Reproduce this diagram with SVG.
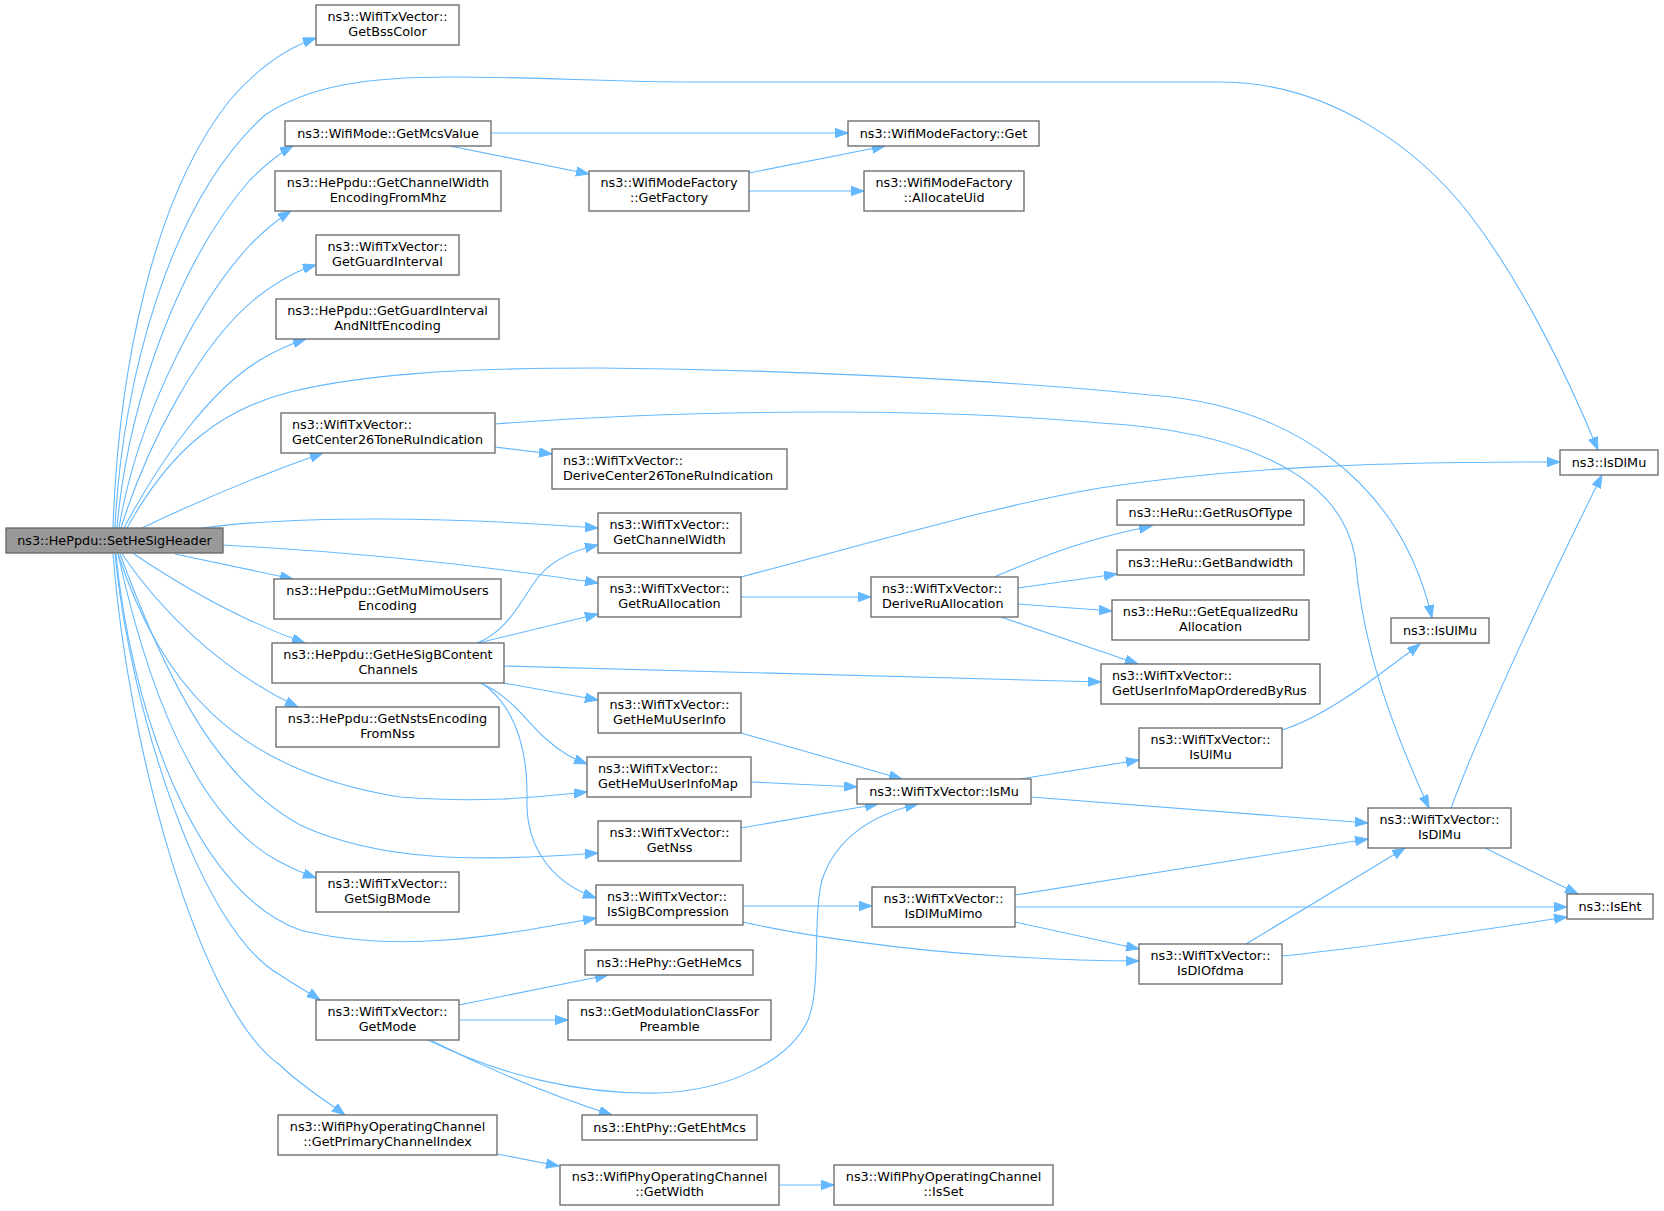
<svg xmlns="http://www.w3.org/2000/svg" width="1664" height="1211" viewBox="0 0 1664 1211">
<defs>
<style>
.n rect{fill:#ffffff;stroke:#666666;stroke-width:1.3}
.root rect{fill:#999999;stroke:#666666;stroke-width:1.3}
text{font-family:"DejaVu Sans","Liberation Sans",sans-serif;font-size:12.8px;fill:#000000}
.c{text-anchor:middle}
.l{text-anchor:start}
#edges path{fill:none;stroke:#63b8ff;stroke-width:1.1;marker-end:url(#ah)}
</style>
<marker id="ah" markerUnits="userSpaceOnUse" markerWidth="14" markerHeight="10" refX="13" refY="4.7" orient="auto">
<path d="M0,0 L13,4.7 L0,9.4 z" fill="#63b8ff" stroke="#63b8ff" stroke-width="1"/>
</marker>
</defs>
<rect x="0" y="0" width="1664" height="1211" fill="#ffffff"/>
<g id="edges">
<path d="M113,528 C118,380 150,200 230,100 C260,65 290,47 316,38"/>
<path d="M115,528 C122,380 170,200 265,115 C310,85 370,77 450,77 C550,77 600,82 700,82 L1220,82 C1330,82 1420,150 1470,215 C1520,280 1565,370 1598,450"/>
<path d="M117,528 C128,400 180,260 250,180 C265,165 278,154 293,146"/>
<path d="M119,528 C135,430 190,310 250,245 C265,230 278,219 291,211"/>
<path d="M121,528 C145,450 200,340 260,295 C280,280 298,270 316,265"/>
<path d="M124,528 C160,460 210,390 260,360 C275,351 290,344 306,339"/>
<path d="M127,528 C170,450 220,410 290,392 C360,375 450,368 600,368 C800,370 1000,380 1150,395 C1290,405 1400,480 1432,618"/>
<path d="M142,528 C190,505 260,475 323,453"/>
<path d="M203,528 C300,515 450,517 598,528"/>
<path d="M223,545 C350,552 480,565 598,583"/>
<path d="M175,554 L293,579"/>
<path d="M134,554 C180,585 240,620 305,643"/>
<path d="M122,554 C160,610 220,670 298,707"/>
<path d="M118,554 C160,680 230,770 400,797 C480,803 530,798 587,792"/>
<path d="M120,554 C170,690 220,780 300,825 C380,862 480,862 598,853"/>
<path d="M118,554 C150,700 200,820 280,862 C295,870 305,874 316,878"/>
<path d="M116,554 C130,700 190,890 300,930 C400,955 500,935 596,918"/>
<path d="M115,554 C130,710 200,930 280,975 C295,985 308,992 320,1000"/>
<path d="M113,554 C128,750 200,1010 280,1065 C300,1085 325,1100 345,1115"/>
<path d="M491,133 L848,133"/>
<path d="M450,146 L589,174"/>
<path d="M749,173 L885,146"/>
<path d="M749,191 L864,191"/>
<path d="M495,447 L552,454"/>
<path d="M495,424 C650,412 900,405 1100,423 C1230,430 1340,470 1355,557 C1360,610 1370,680 1429,808"/>
<path d="M477,643 C510,630 520,600 540,575 C555,558 575,550 598,545"/>
<path d="M478,643 L598,614"/>
<path d="M504,666 L1101,682"/>
<path d="M504,683 L598,700"/>
<path d="M480,683 C510,695 525,720 545,738 C560,752 572,758 587,764"/>
<path d="M482,683 C520,710 528,760 527,800 C526,840 545,880 596,898"/>
<path d="M741,577 C900,535 1000,505 1100,488 C1250,465 1400,462 1560,462"/>
<path d="M741,597 L871,597"/>
<path d="M994,577 C1040,558 1080,540 1152,526"/>
<path d="M1018,588 L1117,574"/>
<path d="M1018,604 L1112,611"/>
<path d="M1001,617 L1138,664"/>
<path d="M741,733 L902,779"/>
<path d="M751,782 L857,787"/>
<path d="M741,828 L878,804"/>
<path d="M1020,779 L1139,760"/>
<path d="M1031,797 L1368,823"/>
<path d="M1015,895 L1368,839"/>
<path d="M1015,907 L1567,907"/>
<path d="M1015,922 L1139,949"/>
<path d="M743,906 L872,906"/>
<path d="M743,922 C800,935 900,950 1000,956 C1060,960 1100,961 1139,961"/>
<path d="M1246,944 L1405,848"/>
<path d="M1282,956 C1380,946 1480,930 1567,917"/>
<path d="M1485,848 L1578,894"/>
<path d="M1451,808 C1480,730 1540,600 1602,475"/>
<path d="M1282,730 C1320,718 1360,690 1420,644"/>
<path d="M459,1005 L608,975"/>
<path d="M459,1020 L568,1020"/>
<path d="M428,1040 C500,1075 580,1095 660,1093 C730,1090 790,1060 808,1020 C822,985 812,920 822,880 C835,840 870,815 918,804"/>
<path d="M432,1041 C490,1070 550,1095 612,1115"/>
<path d="M497,1154 L559,1166"/>
<path d="M779,1185 L834,1185"/>
</g>
<g id="n-SetHeSigHeader" class="root"><rect x="6" y="528" width="217" height="25"/><text class="c" x="114.5" y="544.8">ns3::HePpdu::SetHeSigHeader</text></g>
<g id="n-GetBssColor" class="n"><rect x="316" y="5" width="143" height="40"/><text class="c" x="387.5" y="20.8">ns3::WifiTxVector::</text><text class="c" x="387.5" y="35.8">GetBssColor</text></g>
<g id="n-GetMcsValue" class="n"><rect x="285" y="121" width="206" height="25"/><text class="c" x="388" y="137.8">ns3::WifiMode::GetMcsValue</text></g>
<g id="n-GetChannelWidthEncodingFromMhz" class="n"><rect x="275" y="171" width="226" height="40"/><text class="c" x="388" y="186.8">ns3::HePpdu::GetChannelWidth</text><text class="c" x="388" y="201.8">EncodingFromMhz</text></g>
<g id="n-GetGuardInterval" class="n"><rect x="316" y="235" width="143" height="40"/><text class="c" x="387.5" y="250.8">ns3::WifiTxVector::</text><text class="c" x="387.5" y="265.8">GetGuardInterval</text></g>
<g id="n-GetGuardIntervalAndNltfEncoding" class="n"><rect x="276" y="299" width="223" height="40"/><text class="c" x="387.5" y="314.8">ns3::HePpdu::GetGuardInterval</text><text class="c" x="387.5" y="329.8">AndNltfEncoding</text></g>
<g id="n-GetCenter26ToneRuIndication" class="n"><rect x="281" y="413" width="214" height="40"/><text class="l" x="292" y="428.8">ns3::WifiTxVector::</text><text class="l" x="292" y="443.8">GetCenter26ToneRuIndication</text></g>
<g id="n-GetMuMimoUsersEncoding" class="n"><rect x="274" y="579" width="227" height="40"/><text class="c" x="387.5" y="594.8">ns3::HePpdu::GetMuMimoUsers</text><text class="c" x="387.5" y="609.8">Encoding</text></g>
<g id="n-GetHeSigBContentChannels" class="n"><rect x="272" y="643" width="232" height="40"/><text class="c" x="388" y="658.8">ns3::HePpdu::GetHeSigBContent</text><text class="c" x="388" y="673.8">Channels</text></g>
<g id="n-GetNstsEncodingFromNss" class="n"><rect x="276" y="707" width="223" height="40"/><text class="c" x="387.5" y="722.8">ns3::HePpdu::GetNstsEncoding</text><text class="c" x="387.5" y="737.8">FromNss</text></g>
<g id="n-GetSigBMode" class="n"><rect x="316" y="872" width="143" height="40"/><text class="c" x="387.5" y="887.8">ns3::WifiTxVector::</text><text class="c" x="387.5" y="902.8">GetSigBMode</text></g>
<g id="n-GetMode" class="n"><rect x="316" y="1000" width="143" height="40"/><text class="c" x="387.5" y="1015.8">ns3::WifiTxVector::</text><text class="c" x="387.5" y="1030.8">GetMode</text></g>
<g id="n-GetPrimaryChannelIndex" class="n"><rect x="278" y="1115" width="219" height="40"/><text class="c" x="387.5" y="1130.8">ns3::WifiPhyOperatingChannel</text><text class="c" x="387.5" y="1145.8">::GetPrimaryChannelIndex</text></g>
<g id="n-WifiModeFactoryGet" class="n"><rect x="848" y="121" width="191" height="25"/><text class="c" x="943.5" y="137.8">ns3::WifiModeFactory::Get</text></g>
<g id="n-GetFactory" class="n"><rect x="589" y="171" width="160" height="40"/><text class="c" x="669" y="186.8">ns3::WifiModeFactory</text><text class="c" x="669" y="201.8">::GetFactory</text></g>
<g id="n-AllocateUid" class="n"><rect x="864" y="171" width="160" height="40"/><text class="c" x="944" y="186.8">ns3::WifiModeFactory</text><text class="c" x="944" y="201.8">::AllocateUid</text></g>
<g id="n-DeriveCenter26ToneRuIndication" class="n"><rect x="552" y="449" width="235" height="40"/><text class="l" x="563" y="464.8">ns3::WifiTxVector::</text><text class="l" x="563" y="479.8">DeriveCenter26ToneRuIndication</text></g>
<g id="n-GetChannelWidth" class="n"><rect x="598" y="513" width="143" height="40"/><text class="c" x="669.5" y="528.8">ns3::WifiTxVector::</text><text class="c" x="669.5" y="543.8">GetChannelWidth</text></g>
<g id="n-GetRuAllocation" class="n"><rect x="598" y="577" width="143" height="40"/><text class="c" x="669.5" y="592.8">ns3::WifiTxVector::</text><text class="c" x="669.5" y="607.8">GetRuAllocation</text></g>
<g id="n-DeriveRuAllocation" class="n"><rect x="871" y="577" width="147" height="40"/><text class="l" x="882" y="592.8">ns3::WifiTxVector::</text><text class="l" x="882" y="607.8">DeriveRuAllocation</text></g>
<g id="n-GetHeMuUserInfo" class="n"><rect x="598" y="693" width="143" height="40"/><text class="c" x="669.5" y="708.8">ns3::WifiTxVector::</text><text class="c" x="669.5" y="723.8">GetHeMuUserInfo</text></g>
<g id="n-GetHeMuUserInfoMap" class="n"><rect x="587" y="757" width="164" height="40"/><text class="l" x="598" y="772.8">ns3::WifiTxVector::</text><text class="l" x="598" y="787.8">GetHeMuUserInfoMap</text></g>
<g id="n-IsMu" class="n"><rect x="857" y="779" width="174" height="25"/><text class="c" x="944" y="795.8">ns3::WifiTxVector::IsMu</text></g>
<g id="n-GetNss" class="n"><rect x="598" y="821" width="143" height="40"/><text class="c" x="669.5" y="836.8">ns3::WifiTxVector::</text><text class="c" x="669.5" y="851.8">GetNss</text></g>
<g id="n-IsSigBCompression" class="n"><rect x="596" y="885" width="147" height="40"/><text class="l" x="607" y="900.8">ns3::WifiTxVector::</text><text class="l" x="607" y="915.8">IsSigBCompression</text></g>
<g id="n-IsDlMuMimo" class="n"><rect x="872" y="887" width="143" height="40"/><text class="c" x="943.5" y="902.8">ns3::WifiTxVector::</text><text class="c" x="943.5" y="917.8">IsDlMuMimo</text></g>
<g id="n-GetHeMcs" class="n"><rect x="585" y="950" width="168" height="25"/><text class="c" x="669" y="966.8">ns3::HePhy::GetHeMcs</text></g>
<g id="n-GetModulationClassForPreamble" class="n"><rect x="568" y="1000" width="203" height="40"/><text class="c" x="669.5" y="1015.8">ns3::GetModulationClassFor</text><text class="c" x="669.5" y="1030.8">Preamble</text></g>
<g id="n-GetEhtMcs" class="n"><rect x="582" y="1115" width="175" height="25"/><text class="c" x="669.5" y="1131.8">ns3::EhtPhy::GetEhtMcs</text></g>
<g id="n-GetWidth" class="n"><rect x="560" y="1165" width="219" height="40"/><text class="c" x="669.5" y="1180.8">ns3::WifiPhyOperatingChannel</text><text class="c" x="669.5" y="1195.8">::GetWidth</text></g>
<g id="n-IsSet" class="n"><rect x="834" y="1165" width="219" height="40"/><text class="c" x="943.5" y="1180.8">ns3::WifiPhyOperatingChannel</text><text class="c" x="943.5" y="1195.8">::IsSet</text></g>
<g id="n-ns3IsDlMu" class="n"><rect x="1560" y="450" width="98" height="25"/><text class="c" x="1609" y="466.8">ns3::IsDlMu</text></g>
<g id="n-GetRusOfType" class="n"><rect x="1117" y="500" width="187" height="25"/><text class="c" x="1210.5" y="516.8">ns3::HeRu::GetRusOfType</text></g>
<g id="n-GetBandwidth" class="n"><rect x="1117" y="550" width="187" height="25"/><text class="c" x="1210.5" y="566.8">ns3::HeRu::GetBandwidth</text></g>
<g id="n-GetEqualizedRuAllocation" class="n"><rect x="1112" y="600" width="197" height="40"/><text class="c" x="1210.5" y="615.8">ns3::HeRu::GetEqualizedRu</text><text class="c" x="1210.5" y="630.8">Allocation</text></g>
<g id="n-GetUserInfoMapOrderedByRus" class="n"><rect x="1101" y="664" width="219" height="40"/><text class="l" x="1112" y="679.8">ns3::WifiTxVector::</text><text class="l" x="1112" y="694.8">GetUserInfoMapOrderedByRus</text></g>
<g id="n-ns3IsUlMu" class="n"><rect x="1391" y="618" width="98" height="25"/><text class="c" x="1440" y="634.8">ns3::IsUlMu</text></g>
<g id="n-WifiTxVectorIsUlMu" class="n"><rect x="1139" y="728" width="143" height="40"/><text class="c" x="1210.5" y="743.8">ns3::WifiTxVector::</text><text class="c" x="1210.5" y="758.8">IsUlMu</text></g>
<g id="n-WifiTxVectorIsDlMu" class="n"><rect x="1368" y="808" width="143" height="40"/><text class="c" x="1439.5" y="823.8">ns3::WifiTxVector::</text><text class="c" x="1439.5" y="838.8">IsDlMu</text></g>
<g id="n-IsEht" class="n"><rect x="1567" y="894" width="86" height="25"/><text class="c" x="1610" y="910.8">ns3::IsEht</text></g>
<g id="n-IsDlOfdma" class="n"><rect x="1139" y="944" width="143" height="40"/><text class="c" x="1210.5" y="959.8">ns3::WifiTxVector::</text><text class="c" x="1210.5" y="974.8">IsDlOfdma</text></g>
</svg>
